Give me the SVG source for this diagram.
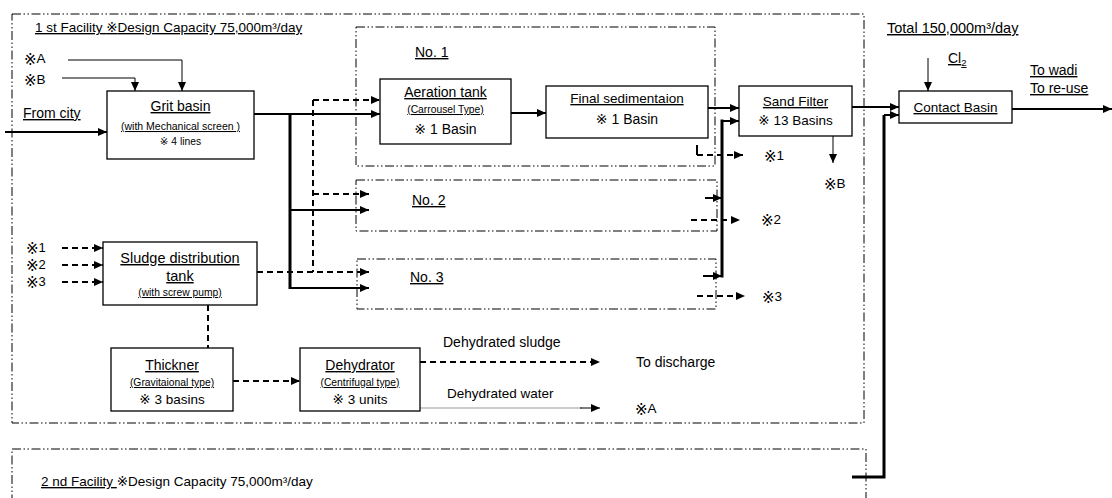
<svg xmlns="http://www.w3.org/2000/svg" width="1112" height="498" viewBox="0 0 1112 498">
<style>
text{font-family:"Liberation Sans","Noto Sans CJK JP",sans-serif;fill:#000;}
.k{font-family:"DejaVu Sans","Noto Sans CJK JP",sans-serif;}
.kb{font-family:"DejaVu Sans","Noto Sans CJK JP",sans-serif;font-size:15px;}
.t14{font-size:14px;}
.t13{font-size:13.5px;}
.sm{font-size:10.3px;}
.u{text-decoration:underline;}
.mid{text-anchor:middle;}
.box{fill:#fff;stroke:#000;stroke-width:1.3;}
.ddot{fill:none;stroke:#000;stroke-width:1;stroke-dasharray:9 2.5 1.5 2.5 1.5 2.5;}
.thin{fill:none;stroke:#000;stroke-width:1;}
.solid{fill:none;stroke:#000;stroke-width:2;}
.bus{fill:none;stroke:#000;stroke-width:3;}
.dash{fill:none;stroke:#000;stroke-width:2;stroke-dasharray:6 4;}
</style>
<defs>
<marker id="ah" viewBox="0 0 9 8" refX="9" refY="4" markerWidth="9" markerHeight="8" markerUnits="userSpaceOnUse" orient="auto">
<path d="M0,0 L9,4 L0,8 z" fill="#000"/>
</marker>
</defs>

<g id="facility1">
<rect class="ddot" x="12" y="14" width="852" height="409"/>
<text class="t13 u" x="35" y="32">1 st Facility  <tspan class="k">※</tspan>Design Capacity 75,000m³/day</text>
</g>
<g id="facility2">
<rect class="ddot" x="12" y="449" width="854" height="80"/>
<text class="t13" x="41" y="486"><tspan class="u">2 nd Facility </tspan><tspan class="k">※</tspan>Design Capacity 75,000m³/day</text>
</g>
<g id="total"><text class="u" font-size="14.5" x="887" y="33">Total 150,000m³/day</text></g>

<g id="line1">
<rect class="ddot" x="356" y="27" width="359" height="139"/>
<text class="t14 u" x="415" y="57">No. 1</text>
</g>
<g id="line2">
<rect class="ddot" x="356" y="180" width="361" height="51"/>
<text class="t14 u" x="412" y="205">No. 2</text>
</g>
<g id="line3">
<rect class="ddot" x="357" y="259" width="359" height="50"/>
<text class="t14 u" x="410" y="282">No. 3</text>
</g>

<g id="connectors">
<polyline class="thin" points="68,60 182,60 182,91" marker-end="url(#ah)"/>
<polyline class="thin" points="62,78 135,78 135,91" marker-end="url(#ah)"/>
<line class="solid" x1="5" y1="132" x2="107" y2="132" marker-end="url(#ah)"/>
<line class="solid" x1="254" y1="114" x2="380" y2="114" marker-end="url(#ah)"/>
<line class="bus" x1="290" y1="113" x2="290" y2="289"/>
<line class="solid" x1="290" y1="210" x2="369" y2="210" marker-end="url(#ah)"/>
<line class="solid" x1="290" y1="288" x2="369" y2="288" marker-end="url(#ah)"/>
<line class="dash" x1="313" y1="100" x2="313" y2="272"/>
<line class="dash" x1="313" y1="100" x2="380" y2="100" marker-end="url(#ah)"/>
<line class="dash" x1="313" y1="194" x2="369" y2="194" marker-end="url(#ah)"/>
<line class="dash" x1="257" y1="272" x2="369" y2="272" marker-end="url(#ah)"/>
<line class="solid" x1="511" y1="113" x2="546" y2="113" marker-end="url(#ah)"/>
<line class="solid" x1="708" y1="108" x2="739" y2="108" marker-end="url(#ah)"/>
<line class="bus" x1="722" y1="119.5" x2="722" y2="277.5"/>
<line class="solid" x1="722" y1="121" x2="739" y2="121" marker-end="url(#ah)"/>
<line class="solid" x1="705" y1="198" x2="722" y2="198" marker-end="url(#ah)"/>
<line class="solid" x1="703" y1="276" x2="722" y2="276" marker-end="url(#ah)"/>
<line class="solid" x1="697" y1="145" x2="697" y2="155"/>
<line class="dash" x1="697" y1="155" x2="743" y2="155" marker-end="url(#ah)"/>
<line class="dash" x1="691" y1="220" x2="740" y2="220" marker-end="url(#ah)"/>
<line class="dash" x1="697" y1="296" x2="745" y2="296" marker-end="url(#ah)"/>
<line class="thin" x1="833" y1="136" x2="833" y2="163" marker-end="url(#ah)"/>
<line class="solid" x1="852" y1="107" x2="899" y2="107" marker-end="url(#ah)"/>
<line class="thin" x1="928" y1="58" x2="928" y2="91" marker-end="url(#ah)"/>
<line class="solid" x1="1012" y1="109" x2="1112" y2="109" marker-end="url(#ah)"/>
<polyline class="bus" points="852,477 884,477 884,115"/>
<line class="solid" x1="884" y1="115" x2="899" y2="115" marker-end="url(#ah)"/>
<line class="dash" x1="62" y1="248" x2="103" y2="248" marker-end="url(#ah)"/>
<line class="dash" x1="62" y1="265" x2="103" y2="265" marker-end="url(#ah)"/>
<line class="dash" x1="62" y1="282" x2="103" y2="282" marker-end="url(#ah)"/>
<line class="dash" x1="208" y1="305" x2="208" y2="348"/>
<line class="dash" x1="233" y1="381" x2="300" y2="381" marker-end="url(#ah)"/>
<line class="dash" x1="420" y1="362" x2="600" y2="362" marker-end="url(#ah)"/>
<line x1="420" y1="408" x2="582" y2="408" stroke="#999" stroke-width="1"/>
<line class="thin" x1="580" y1="408" x2="600" y2="408" marker-end="url(#ah)"/>
</g>

<g id="labels">
<text font-size="13.5" x="24" y="63"><tspan class="kb" dy="2">※</tspan><tspan dy="-2">A</tspan></text>
<text font-size="13.5" x="24" y="84"><tspan class="kb" dy="2">※</tspan><tspan dy="-2">B</tspan></text>
<text class="t14 u" x="23" y="118">From city</text>
<text font-size="13" x="26" y="252"><tspan class="kb" dy="2">※</tspan><tspan dy="-2">1</tspan></text>
<text font-size="13" x="26" y="269"><tspan class="kb" dy="2">※</tspan><tspan dy="-2">2</tspan></text>
<text font-size="13" x="26" y="286"><tspan class="kb" dy="2">※</tspan><tspan dy="-2">3</tspan></text>
<text font-size="13.5" x="764" y="160"><tspan class="kb" dy="2">※</tspan><tspan dy="-2">1</tspan></text>
<text font-size="13.5" x="761" y="224"><tspan class="kb" dy="2">※</tspan><tspan dy="-2">2</tspan></text>
<text font-size="13.5" x="762" y="301"><tspan class="kb" dy="2">※</tspan><tspan dy="-2">3</tspan></text>
<text font-size="13.5" x="824" y="188"><tspan class="kb" dy="2">※</tspan><tspan dy="-2">B</tspan></text>
<text class="t14 u" x="948" y="63">Cl<tspan font-size="9.5" dy="3">2</tspan></text>
<text class="t14 u" x="1030" y="75">To  wadi</text>
<text class="t14 u" x="1030" y="93">To re-use</text>
<text class="t14" x="443" y="347">Dehydrated sludge</text>
<text class="t14" x="636" y="367">To  discharge</text>
<text class="t13" x="447" y="398">Dehydrated water</text>
<text font-size="13.5" x="635" y="413"><tspan class="kb" dy="2">※</tspan><tspan dy="-2">A</tspan></text>
</g>

<g id="grit">
<rect class="box" x="107" y="91" width="147" height="68"/>
<text class="t14 u mid" x="180.5" y="111">Grit basin</text>
<text class="u mid" x="180.5" y="130" font-size="10.5">(with Mechanical  screen )</text>
<text class="sm mid" x="180.5" y="145"><tspan class="k">※</tspan> 4 lines</text>
</g>
<g id="aeration">
<rect class="box" x="380" y="79" width="131" height="65"/>
<text class="t14 u mid" x="445.5" y="97">Aeration tank</text>
<text class="sm u mid" x="445.5" y="113">(Carrousel Type)</text>
<text class="t14 mid" x="445.5" y="134"><tspan class="k">※</tspan> 1 Basin</text>
</g>
<g id="finalsed">
<rect class="box" x="546" y="86" width="162" height="52"/>
<text class="t13 u mid" x="627" y="103">Final sedimentaion</text>
<text class="t14 mid" x="627" y="124"><tspan class="k">※</tspan> 1 Basin</text>
</g>
<g id="sandfilter">
<rect class="box" x="739" y="86" width="113" height="50"/>
<text class="t13 u mid" x="795.5" y="106">Sand Filter</text>
<text class="t13 mid" x="795.5" y="125"><tspan class="k">※</tspan> 13 Basins</text>
</g>
<g id="contact">
<rect class="box" x="899" y="91" width="113" height="32"/>
<text class="t13 u mid" x="955.5" y="112">Contact Basin</text>
</g>
<g id="sludgetank">
<rect class="box" x="103" y="242" width="154" height="63"/>
<text class="u mid" font-size="14.5" x="180" y="263">Sludge distribution</text>
<text class="u mid" font-size="14.5" x="180" y="281">tank</text>
<text class="sm u mid" x="180" y="296">(with screw pump)</text>
</g>
<g id="thickner">
<rect class="box" x="111" y="348" width="122" height="63"/>
<text class="t14 u mid" x="172" y="370">Thickner</text>
<text class="sm u mid" x="172" y="386">(Gravitaional type)</text>
<text class="t13 mid" x="172" y="404"><tspan class="k">※</tspan> 3 basins</text>
</g>
<g id="dehydrator">
<rect class="box" x="300" y="348" width="120" height="63"/>
<text class="t14 u mid" x="360" y="370">Dehydrator</text>
<text class="sm u mid" x="360" y="386">(Centrifugal type)</text>
<text class="t13 mid" x="360" y="404"><tspan class="k">※</tspan> 3 units</text>
</g>
</svg>
